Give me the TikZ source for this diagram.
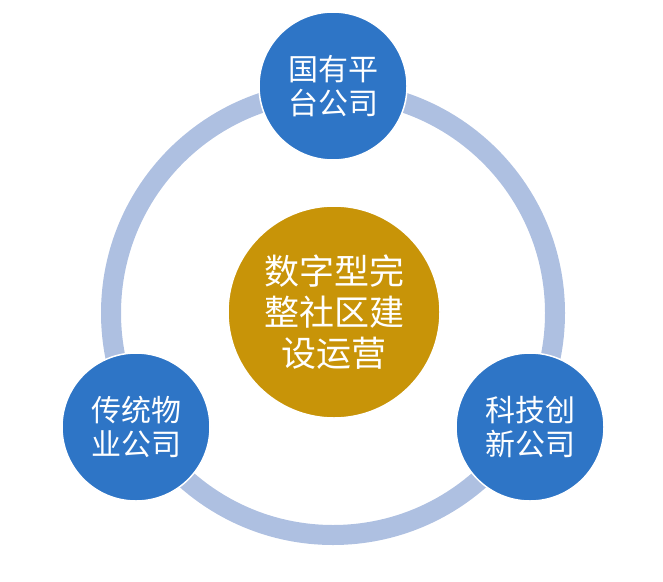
\documentclass[tikz,border=0pt]{standalone}
\usepackage{fontspec}
\newfontfamily\cjk{Noto Sans CJK SC}
\definecolor{ringblue}{RGB}{174,192,225}
\definecolor{unitblue}{RGB}{46,117,198}
\definecolor{coregold}{RGB}{200,148,8}
\tikzset{
	unit/.style={circle, fill=unitblue, draw=white, line width=1.5pt, minimum size=148pt, inner sep=0pt, text=white, align=center, font=\cjk\fontsize{30}{34}\selectfont},
	core/.style={circle, fill=coregold, draw=white, line width=1.5pt, minimum size=212pt, inner sep=0pt, text=white, align=center, font=\cjk\fontsize{35}{41}\selectfont}
}
\begin{document}
\begin{tikzpicture}[x=1pt, y=-1pt]
	\useasboundingbox (0, 0) rectangle (663, 581);

	\draw [ringblue, line width=20pt] (333, 313) circle[radius=222];

	\node [core] (core) at (334, 312) {数字型完\\整社区建\\设运营};
	\node [unit] (state) at (333, 86) {国有平\\台公司};
	\node [unit] (property) at (136, 427) {传统物\\业公司};
	\node [unit] (tech) at (530, 427) {科技创\\新公司};
\end{tikzpicture}
\end{document}
